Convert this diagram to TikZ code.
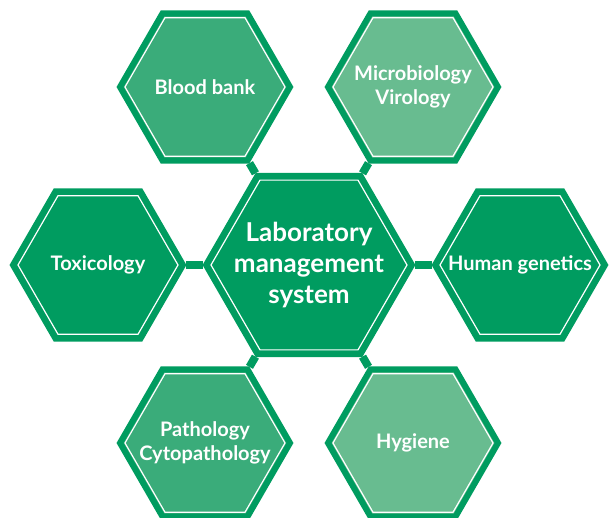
\documentclass[tikz,border=0pt]{standalone}
\usepackage{fontspec}
\setmainfont{Lato}
\usetikzlibrary{shapes.geometric,backgrounds}
\definecolor{labdark}{RGB}{0,156,96}
\definecolor{labmid}{RGB}{58,172,122}
\definecolor{lablight}{RGB}{104,188,144}
\tikzset{
    hexa/.style={regular polygon, regular polygon sides=6, minimum size=170pt,
        inner sep=0pt, draw=labdark, line width=6pt, fill=#1},
    hexa/.default=labdark,
    hexring/.style={regular polygon, regular polygon sides=6, minimum size=160pt,
        inner sep=0pt, draw=white, line width=1.2pt},
    hextext/.style={text=white, align=center,
        font=\bfseries\fontsize{20}{24.5}\selectfont},
    link/.style={draw=labdark, line width=8pt}
}
\begin{document}
\begin{tikzpicture}[x=1pt, y=-1pt]
\useasboundingbox (0,0) rectangle (611,518);
% hexagons
\node[hexa, minimum size=206pt] (lab) at (309,265) {};
\node[hexa=labmid] (blood) at (205,87) {};
\node[hexa=lablight] (micro) at (413,87) {};
\node[hexa] (tox) at (98,265) {};
\node[hexa] (human) at (520,265) {};
\node[hexa=labmid] (patho) at (205,443) {};
\node[hexa=lablight] (hyg) at (413,443) {};
% white inner lines
\node[hexring, minimum size=196pt] (lab-ring) at (lab) {};
\foreach \n in {blood,micro,tox,human,patho,hyg}
    \node[hexring] (\n-ring) at (\n) {};
% links
\begin{scope}[on background layer]
\foreach \n in {blood,micro,tox,human,patho,hyg}
    \draw[link] (lab) -- (\n);
\end{scope}
% labels
\node[hextext, font=\bfseries\fontsize{26}{31}\selectfont] (lab-txt) at (lab) {Laboratory\\management\\system};
\node[hextext] (blood-txt) at (blood) {Blood bank};
\node[hextext] (micro-txt) at (micro) {Microbiology\\Virology};
\node[hextext] (tox-txt) at (tox) {Toxicology};
\node[hextext] (human-txt) at (human) {Human genetics};
\node[hextext] (patho-txt) at (patho) {Pathology\\Cytopathology};
\node[hextext] (hyg-txt) at (hyg) {Hygiene};
\end{tikzpicture}
\end{document}
